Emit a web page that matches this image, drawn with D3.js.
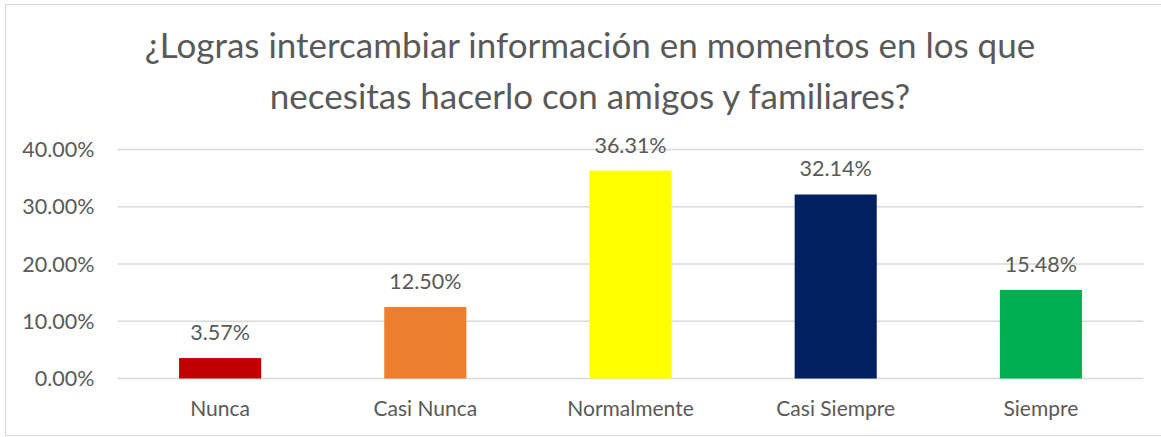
<!DOCTYPE html>
<html>
<head>
<meta charset="utf-8">
<script src="https://cdn.jsdelivr.net/npm/d3@7"></script>
<style>
  html, body { margin: 0; padding: 0; background: #fff; }
  svg { display: block; }
  text { font-family: Lato, "Open Sans", sans-serif; fill: #595959; }
</style>
</head>
<body>
<svg id="chart" width="1161" height="437"></svg>
<script>
const titleLines = ["¿Logras intercambiar información en momentos en los que", "necesitas hacerlo con amigos y familiares?"];
const categories = ["Nunca", "Casi Nunca", "Normalmente", "Casi Siempre", "Siempre"];
const values = [0.0357, 0.1250, 0.3631, 0.3214, 0.1548];
const barColors = ["#C00000", "#ED7D31", "#FFFF00", "#002060", "#00B050"];
const tickValues = [0, 0.1, 0.2, 0.3, 0.4];

const margin = { left: 117.5, right: 1143.5, top: 149.5, bottom: 378.5 };

const svg = d3.select("#chart");

// chart border
svg.append("rect")
  .attr("x", 5.5).attr("y", 4.5)
  .attr("width", 1170).attr("height", 431)
  .attr("fill", "#fff").attr("stroke", "#D9D9D9").attr("stroke-width", 1);

const x = d3.scaleBand().domain(categories).range([margin.left, margin.right]).paddingInner(0.6).paddingOuter(0.3);
const y = d3.scaleLinear().domain([0, 0.4]).range([margin.bottom, margin.top]);

// gridlines
svg.append("g").selectAll("line").data(tickValues).join("line")
  .attr("x1", margin.left).attr("x2", margin.right)
  .attr("y1", d => y(d)).attr("y2", d => y(d))
  .attr("stroke", "#D9D9D9").attr("stroke-width", 1.3);

// y axis labels
const yAxis = d3.axisLeft(y).tickValues(tickValues).tickFormat(d3.format(".2%")).tickSize(0).tickPadding(23);
const gy = svg.append("g").attr("transform", `translate(${margin.left},0)`).call(yAxis);
gy.select(".domain").remove();
gy.selectAll("text").style("font-size", "21.5px").style("font-family", "Lato, sans-serif").attr("fill", "#595959").attr("dy", "0.33em");

// bars
svg.append("g").selectAll("rect").data(values).join("rect")
  .attr("x", (d, i) => x(categories[i]))
  .attr("width", x.bandwidth())
  .attr("y", d => y(d))
  .attr("height", d => y(0) - y(d))
  .attr("fill", (d, i) => barColors[i]);

// value labels
svg.append("g").selectAll("text").data(values).join("text")
  .attr("x", (d, i) => x(categories[i]) + x.bandwidth() / 2)
  .attr("y", d => y(d) - 18)
  .attr("text-anchor", "middle")
  .style("font-size", "21.5px")
  .text(d => d3.format(".2%")(d));

// x axis labels
const xAxis = d3.axisBottom(x).tickSize(0).tickPadding(23);
const gx = svg.append("g").attr("transform", `translate(0,${margin.bottom})`).call(xAxis);
gx.select(".domain").remove();
gx.selectAll("text").style("font-size", "21px").style("font-family", "Lato, sans-serif").attr("fill", "#595959");

// title
svg.append("g").selectAll("text").data(titleLines).join("text")
  .attr("x", 590)
  .attr("y", (d, i) => 57.5 + i * 51)
  .attr("text-anchor", "middle")
  .style("font-size", "35px")
  .text(d => d);
</script>
</body>
</html>
